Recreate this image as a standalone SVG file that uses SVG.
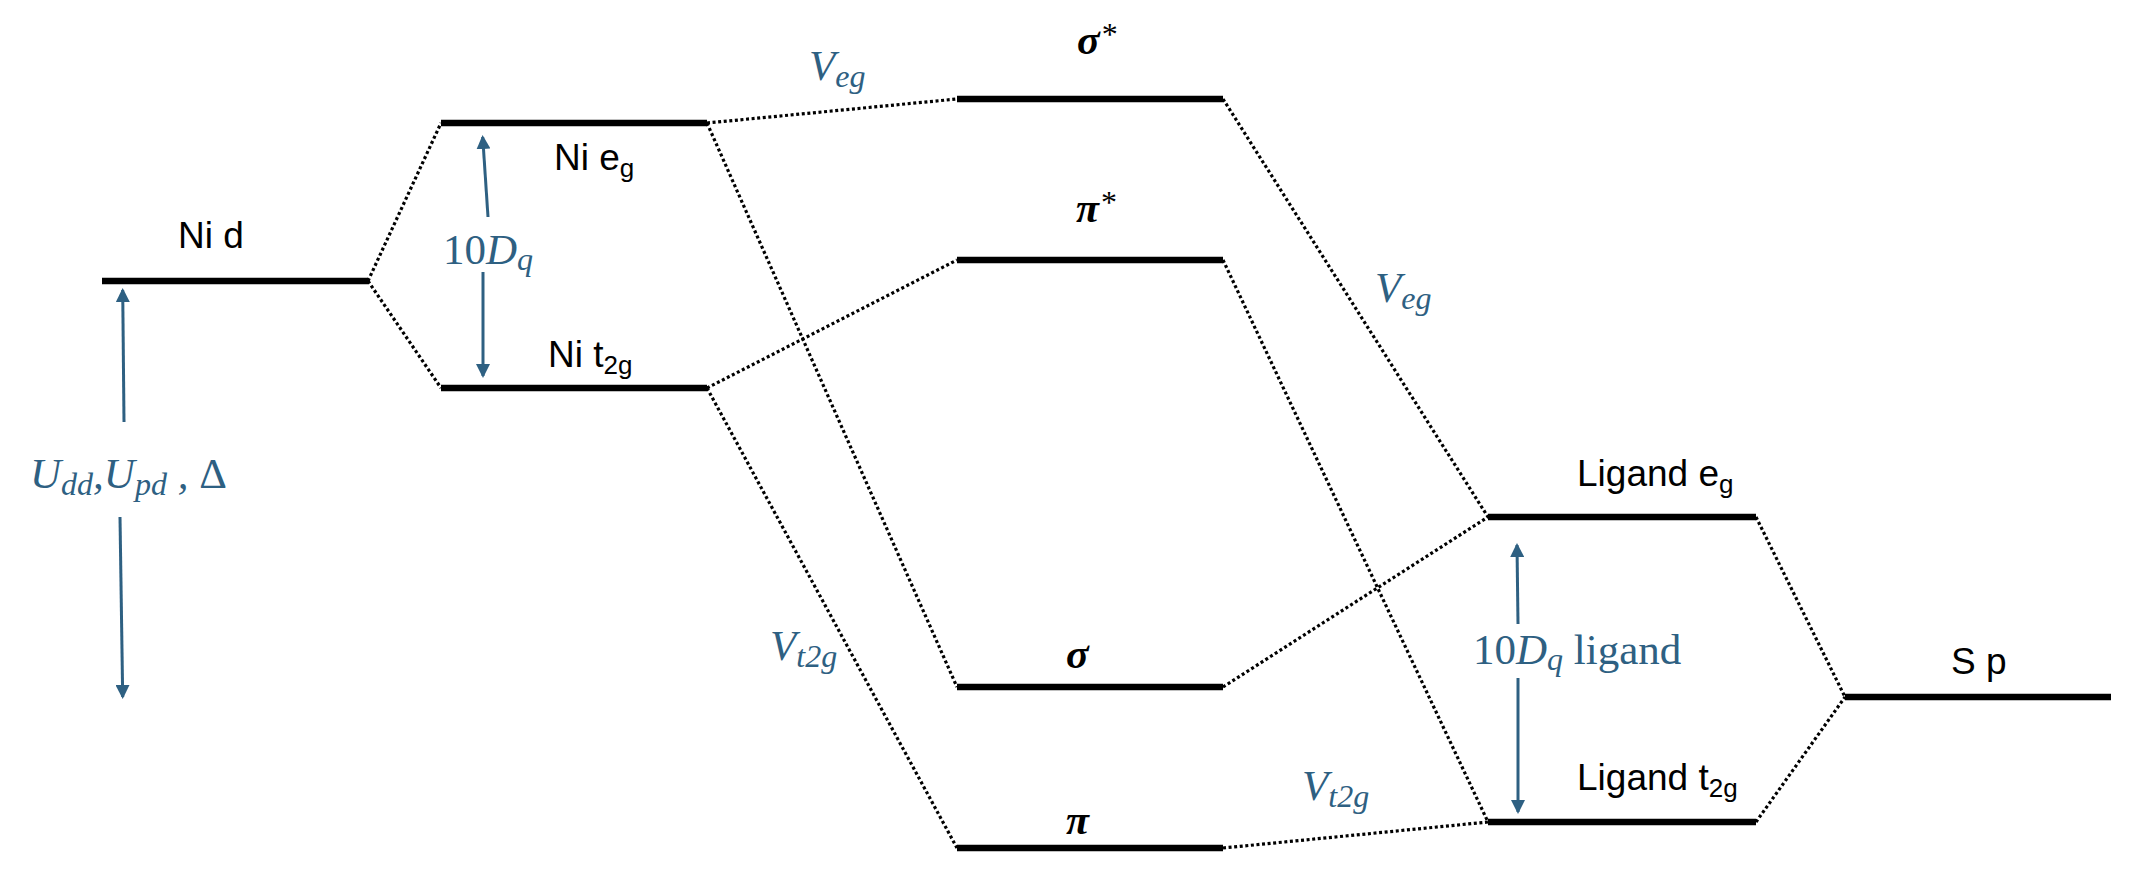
<svg xmlns="http://www.w3.org/2000/svg" width="2132" height="890" viewBox="0 0 2132 890">
<defs>
<style>
.lvl{stroke:#000;stroke-width:6.5;fill:none}
.dot{stroke:#000;stroke-width:3.2;stroke-dasharray:3 2.6;fill:none}
.arr{stroke:#2E6082;stroke-width:3;fill:none;marker-end:url(#ah)}
.lab{font-family:"Liberation Sans",Arial,sans-serif;font-size:37px;fill:#000}
.sub{font-size:26px}
.math{font-family:"Liberation Serif","Times New Roman",serif;font-size:43px;fill:#2E6082;font-style:italic}
.up{font-style:normal}
.ms{font-size:32px}
.greek{font-family:"Liberation Serif","Times New Roman",serif;font-style:italic;font-weight:bold;font-size:42px;fill:#000}
.star{font-style:normal;font-weight:normal;font-size:32px}
</style>
<marker id="ah" markerUnits="userSpaceOnUse" markerWidth="14" markerHeight="14" refX="12" refY="7" orient="auto"><path d="M0,0 L14,7 L0,14 z" fill="#2E6082"/></marker>
</defs>
<rect width="2132" height="890" fill="#fff"/>

<g id="connectors">
<line class="dot" x1="368" y1="281" x2="441" y2="123"/>
<line class="dot" x1="368" y1="281" x2="441" y2="388"/>
<line class="dot" x1="707" y1="123" x2="957" y2="99"/>
<line class="dot" x1="707" y1="123" x2="957" y2="687"/>
<line class="dot" x1="707" y1="388" x2="957" y2="260"/>
<line class="dot" x1="707" y1="388" x2="957" y2="848"/>
<line class="dot" x1="1223" y1="99" x2="1488" y2="517"/>
<line class="dot" x1="1223" y1="260" x2="1488" y2="822"/>
<line class="dot" x1="1223" y1="687" x2="1488" y2="517"/>
<line class="dot" x1="1223" y1="848" x2="1488" y2="822"/>
<line class="dot" x1="1756" y1="517" x2="1845" y2="697"/>
<line class="dot" x1="1756" y1="822" x2="1845" y2="697"/>
</g>

<g id="ni-d">
<line class="lvl" x1="102" y1="281" x2="368" y2="281"/>
<text class="lab" x="178" y="248">Ni d</text>
</g>
<g id="ni-eg">
<line class="lvl" x1="441" y1="123" x2="707" y2="123"/>
<text class="lab" x="554" y="170">Ni e<tspan class="sub" dy="7">g</tspan></text>
</g>
<g id="ni-t2g">
<line class="lvl" x1="441" y1="388" x2="707" y2="388"/>
<text class="lab" x="548" y="367">Ni t<tspan class="sub" dy="7">2g</tspan></text>
</g>
<g id="sigma-star">
<line class="lvl" x1="957" y1="99" x2="1223" y2="99"/>
<text class="greek" x="1077" y="54">σ<tspan class="star" dx="2" dy="-9">*</tspan></text>
</g>
<g id="pi-star">
<line class="lvl" x1="957" y1="260" x2="1223" y2="260"/>
<text class="greek" x="1076" y="222">π<tspan class="star" dx="2" dy="-9">*</tspan></text>
</g>
<g id="sigma">
<line class="lvl" x1="957" y1="687" x2="1223" y2="687"/>
<text class="greek" x="1066" y="668">σ</text>
</g>
<g id="pi">
<line class="lvl" x1="957" y1="848" x2="1223" y2="848"/>
<text class="greek" x="1066" y="834">π</text>
</g>
<g id="ligand-eg">
<line class="lvl" x1="1488" y1="517" x2="1756" y2="517"/>
<text class="lab" x="1577" y="486">Ligand e<tspan class="sub" dy="7">g</tspan></text>
</g>
<g id="ligand-t2g">
<line class="lvl" x1="1488" y1="822" x2="1756" y2="822"/>
<text class="lab" x="1577" y="790">Ligand t<tspan class="sub" dy="7">2g</tspan></text>
</g>
<g id="s-p">
<line class="lvl" x1="1845" y1="697" x2="2111" y2="697"/>
<text class="lab" x="1951" y="674">S p</text>
</g>

<g id="annotations">
<line class="arr" x1="124" y1="422" x2="122.7" y2="290"/>
<line class="arr" x1="120" y1="517" x2="122.7" y2="697"/>
<text class="math" x="30" y="488">U<tspan class="ms" dy="7">dd</tspan><tspan dy="-7">,U</tspan><tspan class="ms" dy="7">pd</tspan><tspan dy="-7"> ,</tspan><tspan class="up"> Δ</tspan></text>

<line class="arr" x1="488" y1="217" x2="482.7" y2="137"/>
<line class="arr" x1="483" y1="272" x2="483" y2="376"/>
<text class="math" x="443" y="264"><tspan class="up">10</tspan>D<tspan class="ms" dy="6">q</tspan></text>

<line class="arr" x1="1518" y1="624" x2="1517" y2="545"/>
<line class="arr" x1="1518" y1="678" x2="1518" y2="812"/>
<text class="math" x="1473" y="664"><tspan class="up">10</tspan>D<tspan class="ms" dy="6">q</tspan><tspan class="up" dy="-6"> ligand</tspan></text>

<text class="math" x="809" y="80">V<tspan class="ms" dy="7">eg</tspan></text>
<text class="math" x="1375" y="302">V<tspan class="ms" dy="7">eg</tspan></text>
<text class="math" x="770" y="660">V<tspan class="ms" dy="7">t2g</tspan></text>
<text class="math" x="1302" y="800">V<tspan class="ms" dy="7">t2g</tspan></text>
</g>
</svg>
